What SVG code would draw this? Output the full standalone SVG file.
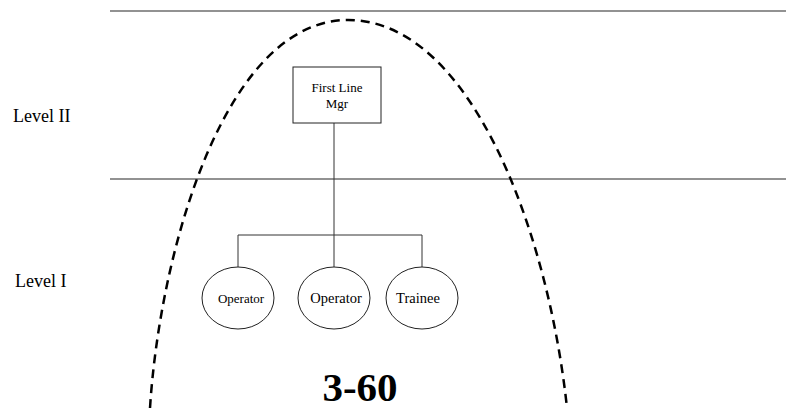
<svg xmlns="http://www.w3.org/2000/svg" width="786" height="409" viewBox="0 0 786 409">
<style>
.t{font-family:"Liberation Serif","Times New Roman",serif;fill:#000;text-anchor:middle}
.lvl{font-family:"Liberation Serif","Times New Roman",serif;font-size:18px;fill:#000}
.sep{stroke:#6e6e6e;stroke-width:1.5;fill:none}
.node{fill:#fff;stroke:#222;stroke-width:1}
.conn{stroke:#333;stroke-width:1;fill:none}
</style>
<rect width="786" height="409" fill="#fff"/>
<line class="sep" x1="110" y1="11" x2="786" y2="11"/>
<line class="sep" x1="110" y1="179" x2="786" y2="179"/>
<text class="lvl" x="13" y="122">Level II</text>
<text class="lvl" x="15" y="287">Level I</text>
<path d="M150,408 C160,250 225,20 348,20 C470,20 548,230 567,408" fill="none" stroke="#000" stroke-width="2.5" stroke-dasharray="9,6"/>
<g id="connectors">
<line class="conn" x1="334" y1="123" x2="334" y2="267"/>
<polyline class="conn" points="238,267 238,235 422,235 422,267"/>
</g>
<g id="mgr">
<rect class="node" x="293" y="67" width="88" height="56"/>
<text class="t" x="337" y="92" font-size="13">First Line</text>
<text class="t" x="337" y="108" font-size="13">Mgr</text>
</g>
<g id="op1">
<ellipse class="node" cx="238" cy="298" rx="36" ry="31"/>
<text class="t" x="241" y="303" font-size="13">Operator</text>
</g>
<g id="op2">
<ellipse class="node" cx="334" cy="298" rx="36" ry="31"/>
<text class="t" x="336" y="303" font-size="14.5">Operator</text>
</g>
<g id="trainee">
<ellipse class="node" cx="422" cy="298" rx="36" ry="31"/>
<text class="t" x="418" y="303" font-size="14.5">Trainee</text>
</g>
<text class="t" x="360" y="401" font-size="41" font-weight="bold">3-60</text>
</svg>
